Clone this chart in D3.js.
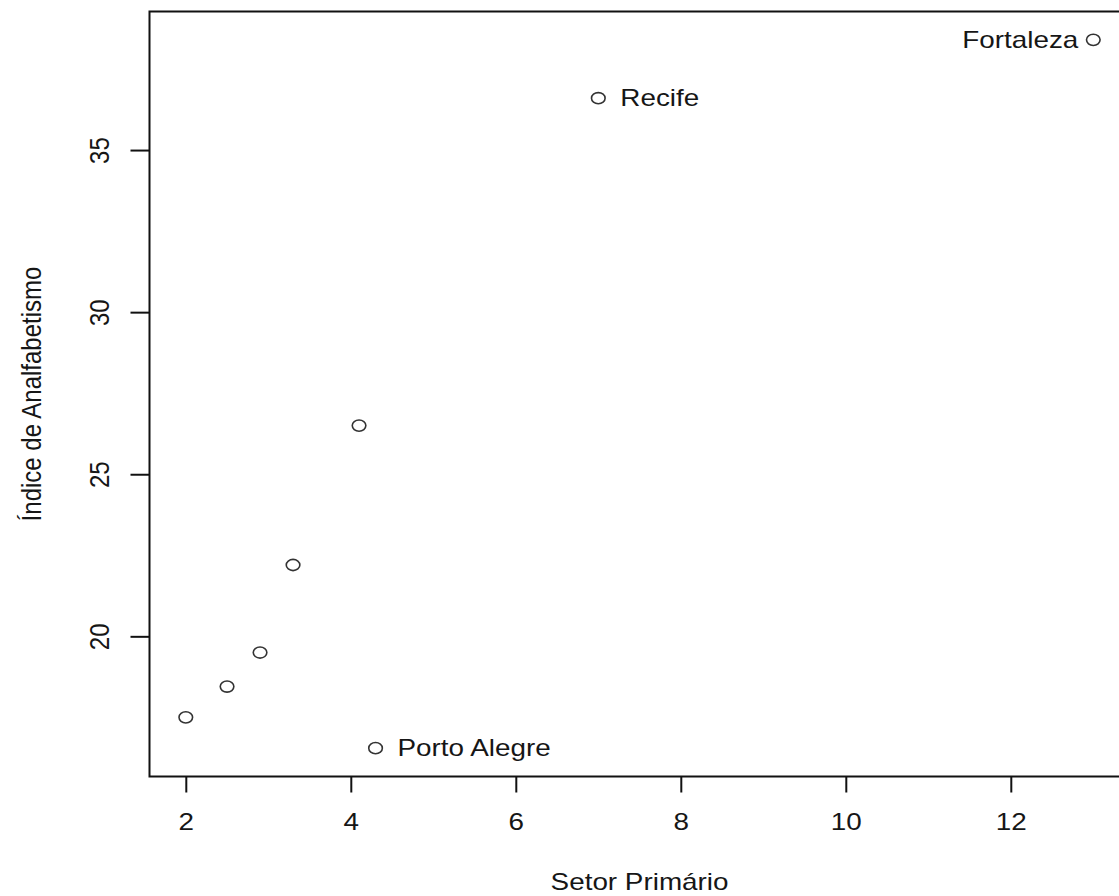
<!DOCTYPE html>
<html>
<head>
<meta charset="utf-8">
<script src="https://cdn.jsdelivr.net/npm/d3@7"></script>
<style>
  body { margin: 0; background: #fff; }
  svg text { font-family: "Liberation Sans", Arial, sans-serif; fill: #161616; }
</style>
</head>
<body>
<div id="chart"></div>
<script>
// Setor primário (%) vs índice de analfabetismo (%)
var setor = [2.0, 2.5, 2.9, 3.3, 4.1, 4.3, 7.0, 13.0]
var analf = [17.5, 18.45, 19.5, 22.2, 26.5, 16.55, 36.6, 38.4]
var cidades = ["", "", "", "", "", "Porto Alegre", "Recife", "Fortaleza"]
var lado = ["", "", "", "", "", "right", "right", "left"]
var xTicks = [2, 4, 6, 8, 10, 12]
var yTicks = [20, 25, 30, 35]

var width = 1119, height = 896
var stretch = 1.16   // the original picture is wider than tall

var svg = d3.select("#chart").append("svg").attr("width", width).attr("height", height)

// R style: pad range by 4% on each side
function padded(arr) {
	var lo = d3.min(arr), hi = d3.max(arr), r = hi - lo
	return [lo - 0.04 * r, hi + 0.04 * r]
}
var pLeft = 149.5, pTop = 11.5, pBottom = 776.5
var xDom = padded(setor)
var xScale = d3.scaleLinear().domain(xDom).range([pLeft, pLeft + (xDom[1] - xDom[0]) * 82.5])
var yScale = d3.scaleLinear().domain(padded(analf)).range([pBottom, pTop])
var pRight = xScale.range()[1]

// box
svg.append("rect")
	.attr("x", pLeft).attr("y", pTop)
	.attr("width", pRight - pLeft).attr("height", pBottom - pTop)
	.attr("fill", "none").attr("stroke", "#111").attr("stroke-width", 2)

var xAxis = svg.append("g").attr("transform", "translate(0," + pBottom + ")")
	.call(d3.axisBottom(xScale).tickValues(xTicks).tickSize(16).tickPadding(0).tickFormat(d3.format("d")))
xAxis.select(".domain").remove()
xAxis.selectAll("line").attr("stroke", "#111").attr("stroke-width", 2)
xAxis.selectAll("text")
	.attr("y", 54).attr("dy", null)
	.attr("fill", null)
	.attr("transform", "scale(" + stretch + ",1)")
	.style("font-size", "24px")

var yAxis = svg.append("g").attr("transform", "translate(" + pLeft + ",0)")
	.call(d3.axisLeft(yScale).tickValues(yTicks).tickSize(19).tickFormat(d3.format("d")))
yAxis.select(".domain").remove()
yAxis.selectAll("line").attr("stroke", "#111").attr("stroke-width", 2)
yAxis.selectAll("text")
	.attr("x", null).attr("dy", null)
	.attr("fill", null)
	.attr("text-anchor", "middle")
	.attr("transform", "translate(-41,0) scale(" + stretch + ",1) rotate(-90)")
	.style("font-size", "24px")
svg.selectAll("g").attr("font-family", null).attr("font-size", null)

// titles
svg.append("text").text("Setor Primário")
	.attr("text-anchor", "middle")
	.attr("transform", "translate(" + ((pLeft + pRight) / 2) + ",890) scale(" + stretch + ",1)")
	.style("font-size", "24px")

svg.append("text").text("Índice de Analfabetismo")
	.attr("text-anchor", "middle")
	.attr("transform", "translate(41," + ((pTop + pBottom) / 2) + ") scale(" + stretch + ",1) rotate(-90)")
	.style("font-size", "24px")

// points
svg.selectAll("ellipse.pt").data(setor).enter().append("ellipse")
	.attr("class", "pt")
	.attr("cx", function(d){ return xScale(d) })
	.attr("cy", function(d,i){ return yScale(analf[i]) })
	.attr("rx", 6.8).attr("ry", 5.6)
	.attr("fill", "none").attr("stroke", "#333").attr("stroke-width", 1.6)

// city labels
setor.forEach(function(d, i) {
	if (!cidades[i]) return
	var dx = lado[i] == "right" ? 22 : -15
	svg.append("text").text(cidades[i])
		.attr("text-anchor", lado[i] == "right" ? "start" : "end")
		.attr("transform", "translate(" + (xScale(d) + dx) + "," + (yScale(analf[i]) + 8) + ") scale(" + stretch + ",1)")
		.style("font-size", "24px")
})
</script>
</body>
</html>
